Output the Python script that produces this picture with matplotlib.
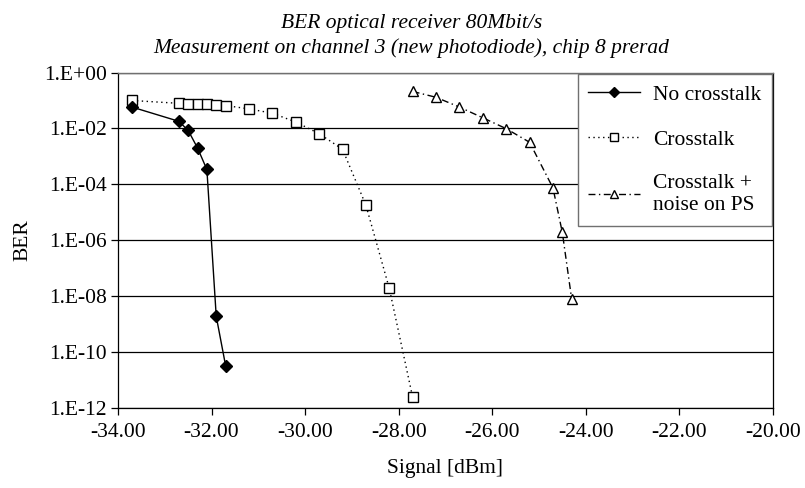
import matplotlib
matplotlib.use("Agg")
import matplotlib.pyplot as plt
from matplotlib.ticker import FuncFormatter, FixedLocator, NullLocator
import numpy as np

plt.rcParams['font.family'] = ['Liberation Serif', 'DejaVu Serif']

# data
no_x = [-33.7, -32.7, -32.5, -32.3, -32.1, -31.9, -31.7]
no_ber = [5.8e-2, 1.8e-2, 8.5e-3, 2.0e-3, 3.4e-4, 1.9e-9, 3.3e-11]

ct_x = [-33.7, -32.7, -32.5, -32.3, -32.1, -31.9, -31.7, -31.2, -30.7,
        -30.2, -29.7, -29.2, -28.7, -28.2, -27.7]
ct_ber = [0.10, 0.079, 0.076, 0.076, 0.074, 0.071, 0.066, 0.050, 0.035,
          0.017, 6.5e-3, 1.8e-3, 1.8e-5, 1.9e-8, 2.4e-12]

ctn_x = [-27.7, -27.2, -26.7, -26.2, -25.7, -25.2, -24.7, -24.5, -24.3]
ctn_ber = [0.21, 0.13, 0.058, 0.024, 9.8e-3, 3.2e-3, 7.4e-5, 1.9e-6, 7.8e-9]

x_ticks = [-34, -32, -30, -28, -26, -24, -22, -20]
y_ticks = [1e0, 1e-2, 1e-4, 1e-6, 1e-8, 1e-10, 1e-12]

fig = plt.figure(figsize=(8.05, 4.88), dpi=100)
ax = fig.add_axes([0.1466, 0.1639, 0.8134, 0.6875])

ax.plot(no_x, no_ber, color='black', lw=1.0, marker='D', ms=6,
        mfc='black', mec='black', label='No crosstalk', zorder=4)
ax.plot(ct_x, ct_ber, color='black', lw=1.0, ls=(0, (1, 2.5)), marker='s', ms=6.5,
        mfc='white', mec='black', mew=1.0, label='Crosstalk', zorder=3)
ax.plot(ctn_x, ctn_ber, color='black', lw=1.0, ls=(0, (5, 2.5, 1, 2.5)), marker='^', ms=7,
        mfc='white', mec='black', mew=1.0, label='Crosstalk +\nnoise on PS', zorder=3)

ax.set_yscale('log')
ax.set_ylim(1e-12, 1e0)
ax.set_xlim(-34, -20)
ax.yaxis.set_major_locator(FixedLocator(y_ticks))
ax.yaxis.set_minor_locator(NullLocator())
ax.xaxis.set_major_locator(FixedLocator(x_ticks))

def yfmt(v, pos):
    e = int(round(np.log10(v)))
    return "1.E%+03d" % e

ax.yaxis.set_major_formatter(FuncFormatter(yfmt))
ax.xaxis.set_major_formatter(FuncFormatter(lambda v, p: "%.2f" % v))

ax.grid(axis='y', color='black', lw=0.9)
ax.tick_params(axis='y', direction='out', length=5, width=0.9, labelsize=15.5, pad=3)
ax.tick_params(axis='x', direction='out', length=5, width=0.9, labelsize=15.5, pad=6)

for s in ['left', 'bottom', 'right']:
    ax.spines[s].set_color('black')
    ax.spines[s].set_linewidth(0.9)
ax.spines['top'].set_color('#707070')
ax.spines['top'].set_linewidth(1.0)

ax.set_ylabel('BER', fontsize=15.5, labelpad=8)
ax.set_xlabel('Signal [dBm]', fontsize=15.5, labelpad=12)

fig.text(0.511, 0.952, 'BER optical receiver 80Mbit/s', ha='center', va='center',
         fontsize=15.5, style='italic')
fig.text(0.511, 0.902, 'Measurement on channel 3 (new photodiode), chip 8 prerad',
         ha='center', va='center', fontsize=15.5, style='italic')

leg = ax.legend(loc='upper right', bbox_to_anchor=(0.9988, 0.996), borderaxespad=0,
                fontsize=15.5, frameon=True, fancybox=False, framealpha=1,
                edgecolor='#707070', handlelength=2.4, labelspacing=1.15,
                borderpad=0.5, handletextpad=0.6, markerscale=0.8)
leg.get_frame().set_linewidth(1.0)

plt.savefig('out.png', dpi=100)
